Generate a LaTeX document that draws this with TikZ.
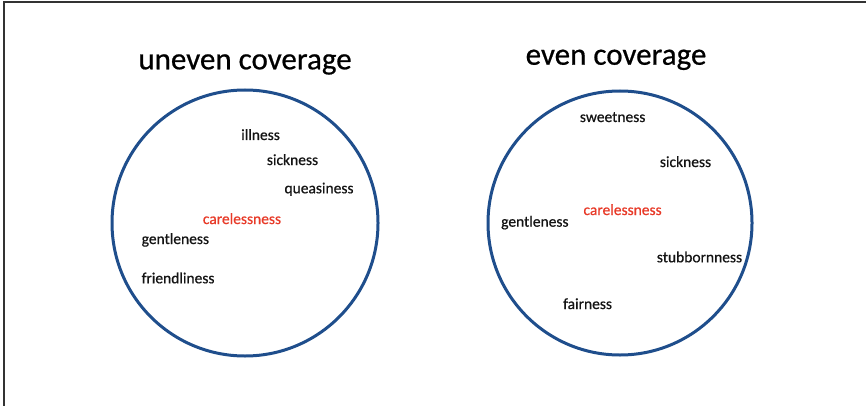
\documentclass[tikz,border=0pt]{standalone}
\usepackage{fontspec}
\setmainfont{Carlito}
\newfontfamily\heavyfont{Carlito}[FakeBold=0.6]
\definecolor{ringblue}{RGB}{31,78,140}
\definecolor{wordred}{RGB}{232,58,40}
\definecolor{wordblack}{RGB}{20,20,20}
\begin{document}
\begin{tikzpicture}[x=1pt,y=-1pt,
  ring/.style={draw=ringblue,line width=3pt},
  title/.style={inner sep=0pt,anchor=base,font=\heavyfont\fontsize{31}{36}\selectfont,text=black},
  word/.style={inner sep=0pt,anchor=base west,font=\heavyfont\fontsize{15.5}{18}\selectfont,text=wordblack},
  focus/.style={word,text=wordred}]
\useasboundingbox (0,0) rectangle (866,406);
\fill[white] (0,0) rectangle (866,406);
\draw[line width=2pt,draw=black!80] (4,406) -- (4,2.5) -- (866,2.5);
% left
\node[title] (t1) at (245,69.3) {uneven coverage};
\draw[ring] (245,223) circle[radius=133];
\node[word] (l1) at (241,140) {illness};
\node[word] (l2) at (266.7,165) {sickness};
\node[word] (l3) at (284.3,193.3) {queasiness};
\node[focus] (l4) at (202.7,224) {carelessness};
\node[word] (l5) at (141.5,244) {gentleness};
\node[word] (l6) at (141.5,283.3) {friendliness};
% right
\node[title] (t2) at (616,64.7) {even coverage};
\draw[ring] (620,223) circle[radius=132];
\node[word] (r1) at (579.7,122) {sweetness};
\node[word] (r2) at (659.7,167) {sickness};
\node[focus] (r3) at (583.3,215) {carelessness};
\node[word] (r4) at (501,226.7) {gentleness};
\node[word] (r5) at (656.7,262.3) {stubbornness};
\node[word] (r6) at (563,309) {fairness};
\end{tikzpicture}
\end{document}
